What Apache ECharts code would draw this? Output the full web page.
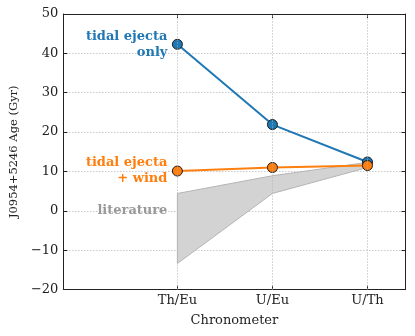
<!DOCTYPE html>
<html>
<head>
<meta charset="utf-8">
<script src="https://cdn.jsdelivr.net/npm/echarts@6/dist/echarts.min.js"></script>
<style>
  html, body { margin: 0; padding: 0; background: #fff; }
  #chart { width: 415px; height: 336px; }
</style>
</head>
<body>
<div id="chart"></div>
<script>
// Edades de J0954+5246 segun cada cronometro
const chronometers = ["Th/Eu", "U/Eu", "U/Th"];
const chronoX = [0, 1, 2];
const ejectaOnly = [42.3, 21.9, 12.4];
const ejectaWind = [10.1, 11.0, 11.5];
const litUpper = [4.4, 8.9, 12.3];
const litLower = [-13.4, 4.4, 11.0];
const yTicks = [-20, -10, 0, 10, 20, 30, 40, 50];

const FONT = "DejaVu Serif";
const BLUE = "#1f77b4";
const ORANGE = "#ff7f0e";
const GRID_COLOR = "#b0b0b0";
const GRID_DASH = [1, 2];

const chart = echarts.init(document.getElementById("chart"));

const pairs = (ys) => chronoX.map((x, i) => [x, ys[i]]);
const minus = (v) => String(v).replace("-", "\u2212");

const axisLineStyle = { color: "#222", width: 1 };

chart.setOption({
  animation: false,
  grid: { left: 58.5, right: 9.5, top: 14, bottom: 46.5 },
  xAxis: [
    {
      type: "value",
      min: -1.2,
      max: 2.4,
      position: "bottom",
      name: "Chronometer",
      nameLocation: "middle",
      nameGap: 25,
      nameTextStyle: { fontFamily: FONT, fontSize: 13, color: "#222" },
      axisLine: { show: true, onZero: false, lineStyle: axisLineStyle },
      axisTick: { show: true, inside: true, length: 4, customValues: chronoX, lineStyle: axisLineStyle },
      axisLabel: {
        customValues: chronoX,
        formatter: (v) => chronometers[Math.round(v)] || "",
        fontFamily: FONT, fontSize: 13, color: "#222", margin: 5
      },
      splitLine: { show: false }
    },
    {
      type: "value",
      min: -1.2,
      max: 2.4,
      position: "top",
      axisLine: { show: true, onZero: false, lineStyle: axisLineStyle },
      axisTick: { show: true, inside: true, length: 4, customValues: chronoX, lineStyle: axisLineStyle },
      axisLabel: { show: false },
      splitLine: { show: false }
    }
  ],
  yAxis: [
    {
      type: "value",
      min: -20,
      max: 50,
      interval: 10,
      position: "left",
      name: "J0954+5246 Age (Gyr)",
      nameLocation: "middle",
      nameGap: 38,
      nameTextStyle: { fontFamily: FONT, fontSize: 11.5, color: "#222" },
      axisLine: { show: true, onZero: false, lineStyle: axisLineStyle },
      axisTick: { show: true, inside: true, length: 4, lineStyle: axisLineStyle },
      axisLabel: { formatter: minus, fontFamily: FONT, fontSize: 13, color: "#222", margin: 5 },
      splitLine: { show: true, lineStyle: { color: GRID_COLOR, type: GRID_DASH, width: 1 } }
    },
    {
      type: "value",
      min: -20,
      max: 50,
      interval: 10,
      position: "right",
      axisLine: { show: true, onZero: false, lineStyle: axisLineStyle },
      axisTick: { show: true, inside: true, length: 4, lineStyle: axisLineStyle },
      axisLabel: { show: false },
      splitLine: { show: false }
    }
  ],
  series: [
    {
      // banda de literatura
      type: "custom",
      z: 1,
      silent: true,
      data: [[0, 0]],
      renderItem: function (params, api) {
        const top = chronoX.map((x, i) => api.coord([x, litUpper[i]]));
        const bottom = chronoX.map((x, i) => api.coord([x, litLower[i]])).reverse();
        return {
          type: "polygon",
          shape: { points: top.concat(bottom) },
          style: { fill: "#d3d3d3", stroke: "#b4b4b4", lineWidth: 1 }
        };
      },
      markLine: {
        silent: true,
        symbol: "none",
        label: { show: false },
        lineStyle: { color: GRID_COLOR, type: GRID_DASH, width: 1 },
        data: chronoX.map((x) => ({ xAxis: x }))
      }
    },
    {
      name: "tidal ejecta only",
      type: "line",
      z: 3,
      data: pairs(ejectaOnly),
      symbol: "circle",
      symbolSize: 10,
      lineStyle: { color: BLUE, width: 2 },
      itemStyle: { color: BLUE, borderColor: "#1a1a1a", borderWidth: 1 }
    },
    {
      name: "tidal ejecta + wind",
      type: "line",
      z: 4,
      data: pairs(ejectaWind),
      symbol: "circle",
      symbolSize: 10,
      lineStyle: { color: ORANGE, width: 2 },
      itemStyle: { color: ORANGE, borderColor: "#1a1a1a", borderWidth: 1 }
    }
  ]
});

// Etiquetas de texto junto a la primera columna
function label(text, color, yVal) {
  const p = chart.convertToPixel({ xAxisIndex: 0, yAxisIndex: 0 }, [chronoX[0], yVal]);
  return {
    type: "text",
    x: p[0] - 10,
    y: p[1],
    style: {
      text: text,
      fill: color,
      font: "bold 13px '" + FONT + "'",
      align: "right",
      verticalAlign: "middle",
      lineHeight: 16
    },
    z: 10
  };
}

chart.setOption({
  graphic: [
    label("tidal ejecta\nonly", BLUE, ejectaOnly[0]),
    label("tidal ejecta\n+ wind", ORANGE, ejectaWind[0]),
    label("literature", "#999999", 0)
  ]
});
</script>
</body>
</html>
